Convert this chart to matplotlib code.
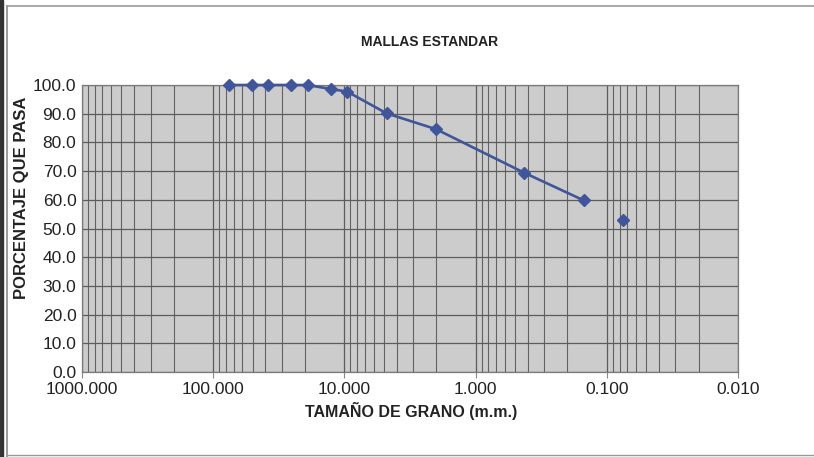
import numpy as np
import matplotlib
matplotlib.use("Agg")
import matplotlib.pyplot as plt
from matplotlib.ticker import FixedLocator, FuncFormatter, NullFormatter
from matplotlib.patches import Rectangle

plt.rcParams['font.family'] = ['Liberation Sans', 'DejaVu Sans']

# datos de la curva granulometrica
abertura = [76.2, 50.8, 38.1, 25.4, 19.05, 12.7, 9.525, 4.76, 2.0, 0.425, 0.15]
pasa = [100.0, 100.0, 100.0, 100.0, 100.0, 98.6, 97.7, 90.1, 84.6, 69.4, 59.8]
# malla 200, sin linea
abertura_200 = [0.075]
pasa_200 = [53.0]

y_ticks = [0, 10, 20, 30, 40, 50, 60, 70, 80, 90, 100]
x_ticks = [1000, 100, 10, 1, 0.1, 0.01]

fig = plt.figure(figsize=(8.14, 4.57), dpi=100)
ax = fig.add_axes([82 / 814, 1 - 372 / 457, (738 - 82) / 814, (372 - 85) / 457])
ax.set_facecolor('#cccccc')

azul = '#41559a'
ax.plot(abertura, pasa, color=azul, lw=1.9, marker='D', ms=6.2, zorder=3, clip_on=False)
ax.plot(abertura_200, pasa_200, color=azul, ls='none', marker='D', ms=6.2, zorder=3)

ax.set_xscale('log')
ax.set_xlim(1000, 0.01)
ax.set_ylim(0, 100)

# rejilla: decadas y subdivisiones
menores = [m * 10.0 ** e for e in range(-2, 3) for m in range(2, 10)]
ax.xaxis.set_major_locator(FixedLocator(x_ticks))
ax.xaxis.set_minor_locator(FixedLocator(menores))
ax.xaxis.set_major_formatter(FuncFormatter(lambda v, p: '%.3f' % v))
ax.xaxis.set_minor_formatter(NullFormatter())
ax.set_yticks(y_ticks)
ax.yaxis.set_major_formatter(FuncFormatter(lambda v, p: '%.1f' % v))

ax.grid(True, which='major', axis='both', color='#5c5c5c', lw=0.9)
ax.grid(True, which='minor', axis='x', color='#626262', lw=0.8)
ax.set_axisbelow(True)

ax.tick_params(axis='x', which='major', length=4, width=0.8, color='#888888',
               labelsize=12.5, pad=3, labelcolor='#222222')
ax.tick_params(axis='x', which='minor', length=0)
ax.tick_params(axis='y', which='major', length=0, labelsize=12.5, pad=4,
               labelcolor='#222222')

for s in ax.spines.values():
    s.set_color('#7a7a7a')
    s.set_linewidth(0.9)

fig.text(430 / 814, 1 - 42 / 457, 'MALLAS ESTANDAR', ha='center', va='center',
         fontsize=10, fontweight='bold', color='#222222')
fig.text(411 / 814, 1 - 411 / 457, 'TAMAÑO DE GRANO (m.m.)', ha='center', va='center',
         fontsize=11.5, fontweight='bold', color='#222222')
fig.text(22 / 814, 1 - 198 / 457, 'PORCENTAJE QUE PASA', ha='center', va='center',
         rotation=90, fontsize=12, fontweight='bold', color='#222222')

# marco de la hoja
fig.patches.append(Rectangle((0, 0), 3 / 814, 1, transform=fig.transFigure,
                             color='#333333', zorder=0))
fig.lines.append(plt.Line2D([7 / 814, 7 / 814], [0, 1 - 6 / 457], transform=fig.transFigure,
                            color='#8a8a8a', lw=1.2))
fig.lines.append(plt.Line2D([7 / 814, 1], [1 - 6 / 457, 1 - 6 / 457], transform=fig.transFigure,
                            color='#9a9a9a', lw=1.2))
fig.lines.append(plt.Line2D([7 / 814, 1], [2 / 457, 2 / 457], transform=fig.transFigure,
                            color='#9a9a9a', lw=1.0))

fig.savefig('out.png', dpi=100)
